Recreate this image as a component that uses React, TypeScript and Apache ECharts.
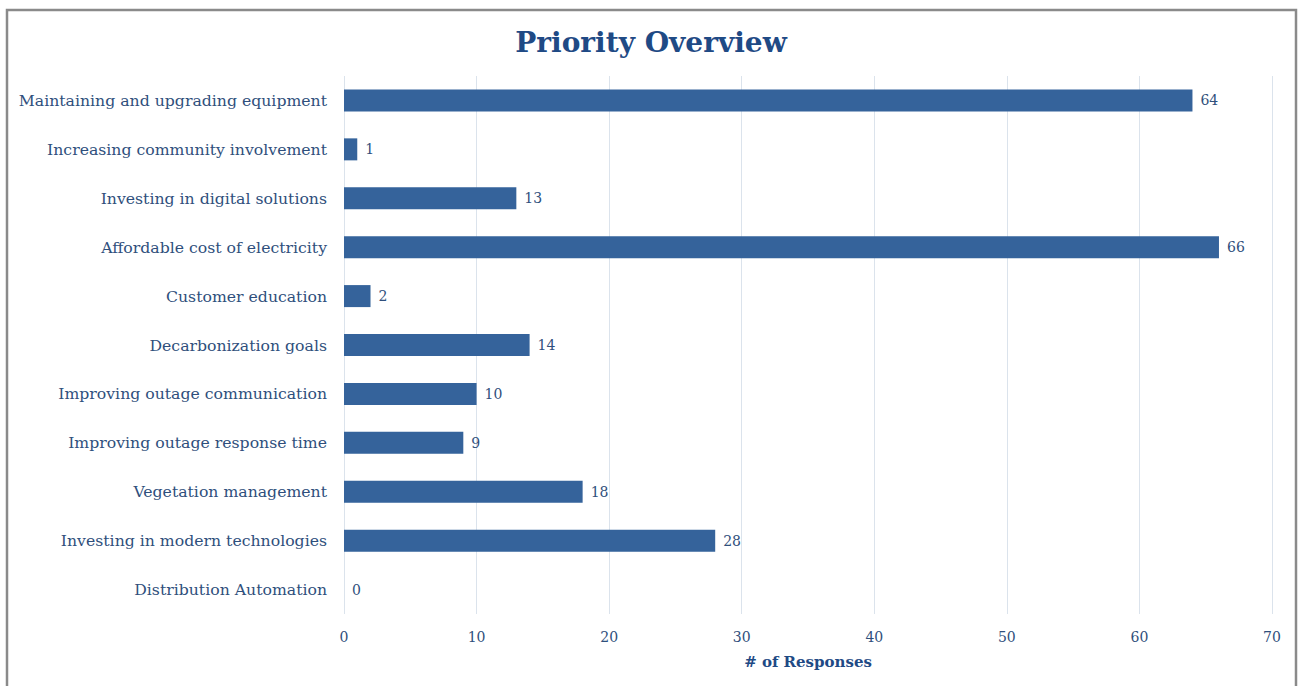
import React, { useEffect, useRef } from "react";
import * as echarts from "echarts";

const categories = [
  "Maintaining and upgrading equipment",
  "Increasing community involvement",
  "Investing in digital solutions",
  "Affordable cost of electricity",
  "Customer education",
  "Decarbonization goals",
  "Improving outage communication",
  "Improving outage response time",
  "Vegetation management",
  "Investing in modern technologies",
  "Distribution Automation",
];
const responses = [64, 1, 13, 66, 2, 14, 10, 9, 18, 28, 0];
const xTicks = { min: 0, max: 70, interval: 10 };

const TEXT = "#2f4f7c";
const SERIF = "'DejaVu Serif', serif";

export default function App() {
  const ref = useRef<HTMLDivElement>(null);
  useEffect(() => {
    if (!ref.current) return;
    const chart = echarts.init(ref.current, undefined, { renderer: "svg" });
    chart.setOption({
      animation: false,
      backgroundColor: "#ffffff",
      title: {
        text: "Priority Overview",
        left: "center",
        top: 23,
        textStyle: { fontFamily: SERIF, fontWeight: "bold", fontSize: 28, color: "#1f4a85" },
      },
      graphic: [
        {
          type: "rect",
          shape: { x: 7, y: 10, width: 1289, height: 700 },
          style: { fill: "none", stroke: "#8a8a8a", lineWidth: 2.5 },
          silent: true,
        },
      ],
      grid: { left: 344, right: 30, top: 76, bottom: 72 },
      xAxis: {
        type: "value",
        min: xTicks.min,
        max: xTicks.max,
        interval: xTicks.interval,
        name: "# of Responses",
        nameLocation: "middle",
        nameGap: 40,
        nameTextStyle: { fontFamily: SERIF, fontWeight: "bold", fontSize: 15, color: "#1f4a85" },
        axisLine: { show: false },
        axisTick: { show: false },
        axisLabel: { fontFamily: SERIF, fontSize: 14, color: TEXT, margin: 16 },
        splitLine: { show: true, lineStyle: { color: "#dbe3ec", width: 1 } },
      },
      yAxis: {
        type: "category",
        data: categories,
        inverse: true,
        axisLine: { show: false },
        axisTick: { show: false },
        axisLabel: { fontFamily: SERIF, fontSize: 15.7, color: TEXT, margin: 17 },
      },
      series: [
        {
          type: "bar",
          data: responses,
          barWidth: "45%",
          itemStyle: { color: "#35639b" },
          label: {
            show: true,
            position: "right",
            distance: 8,
            fontFamily: SERIF,
            fontSize: 14,
            color: TEXT,
          },
        },
      ],
    });
    return () => chart.dispose();
  }, []);
  return (
    <div
      ref={ref}
      style={{ position: "absolute", left: 0, top: 0, width: 1302, height: 686 }}
    />
  );
}
